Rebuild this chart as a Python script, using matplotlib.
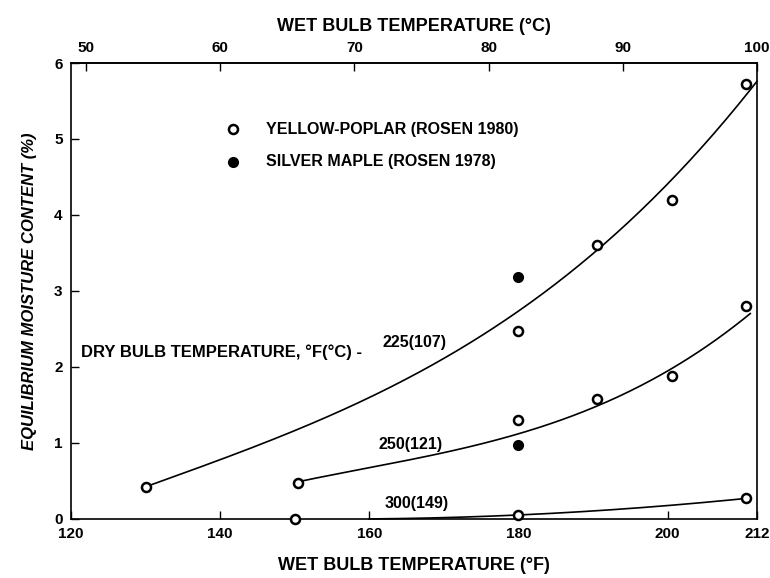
import numpy as np
import matplotlib.pyplot as plt

# wet bulb temperature (F) and equilibrium moisture content (%) for yellow-poplar
wb_225 = [130.0, 180.0, 190.5, 200.6, 210.5]
emc_225 = [0.42, 2.48, 3.60, 4.20, 5.72]
wb_250 = [150.4, 180.0, 190.5, 200.6, 210.5]
emc_250 = [0.47, 1.30, 1.58, 1.88, 2.80]
wb_300 = [150.0, 180.0, 210.5]
emc_300 = [0.00, 0.05, 0.27]

# silver maple points
wb_maple = [180.0, 180.0]
emc_maple = [3.18, 0.97]

# points along the hand-fitted curves
fit_x_225 = [130.3, 140.0, 150.7, 160.0, 180.3, 185.6, 190.5, 200.9, 212.0]
fit_y_225 = [0.42, 0.80, 1.21, 1.57, 2.75, 3.12, 3.56, 4.51, 5.75]
fit_x_250 = [150.4, 165.0, 180.0, 185.6, 200.9, 211.1]
fit_y_250 = [0.50, 0.73, 1.17, 1.30, 1.96, 2.72]
fit_x_300 = [160.0, 170.0, 180.0, 195.0, 210.5]
fit_y_300 = [0.00, 0.02, 0.05, 0.14, 0.27]

curve_labels = ['225(107)', '250(121)', '300(149)']
label_x = [166.1, 165.6, 166.3]
label_y = [2.32, 0.98, 0.21]

x_ticks = [120, 140, 160, 180, 200, 212]
c_ticks = [50, 60, 70, 80, 90, 100]
y_ticks = [0, 1, 2, 3, 4, 5, 6]

plt.rcParams['font.family'] = ['Liberation Sans', 'DejaVu Sans']
plt.rcParams['font.weight'] = 'bold'


def f_to_c(f):
    return (np.asarray(f) - 32) * 5 / 9


def c_to_f(c):
    return np.asarray(c) * 9 / 5 + 32


def smooth_curve(xs, ys, deg=3):
    coef = np.polyfit(xs, ys, deg)
    xf = np.linspace(xs[0], xs[-1], 200)
    return xf, np.clip(np.polyval(coef, xf), 0, None)


fig = plt.figure(figsize=(7.7, 5.78), dpi=100)
ax = fig.add_axes([0.0922, 0.1021, 0.8909, 0.7889])

for fx, fy in [(fit_x_225, fit_y_225), (fit_x_250, fit_y_250), (fit_x_300, fit_y_300)]:
    xf, yf = smooth_curve(fx, fy)
    ax.plot(xf, yf, color='black', lw=1.2, clip_on=False, zorder=2)

for wb, emc in [(wb_225, emc_225), (wb_250, emc_250), (wb_300, emc_300)]:
    ax.plot(wb, emc, 'o', ms=6.5, mfc='white', mec='black', mew=1.8,
            clip_on=False, zorder=3)

ax.plot(wb_maple, emc_maple, 'o', ms=7, color='black', clip_on=False, zorder=3)

for lx, ly, lab in zip(label_x, label_y, curve_labels):
    ax.text(lx, ly, lab, ha='center', va='center', fontsize=11.5, fontweight='bold')

ax.text(121.3, 2.2, 'DRY BULB TEMPERATURE, \u00b0F(\u00b0C) -', ha='left', va='center',
        fontsize=12, fontweight='bold')

# legend drawn as plain markers and text
ax.plot([141.7], [5.13], 'o', ms=6.5, mfc='white', mec='black', mew=1.8)
ax.plot([141.7], [4.70], 'o', ms=7, color='black')
ax.text(146.1, 5.13, 'YELLOW-POPLAR (ROSEN 1980)', ha='left', va='center',
        fontsize=11.5, fontweight='bold')
ax.text(146.1, 4.70, 'SILVER MAPLE (ROSEN 1978)', ha='left', va='center',
        fontsize=11.5, fontweight='bold')

ax.set_xlim(120, 212)
ax.set_ylim(0, 6)
ax.set_xticks(x_ticks)
ax.set_yticks(y_ticks)
ax.tick_params(direction='in', length=5.5, width=1, labelsize=11, pad=6)
for lab in ax.get_xticklabels() + ax.get_yticklabels():
    lab.set_fontweight('bold')

top = ax.secondary_xaxis('top', functions=(f_to_c, c_to_f))
top.set_xticks(c_ticks)
top.tick_params(direction='in', length=5.5, width=1, labelsize=11, pad=6)
for lab in top.get_xticklabels():
    lab.set_fontweight('bold')

for sp in ax.spines.values():
    sp.set_linewidth(1.2)
top.spines['top'].set_linewidth(1.2)

ax.set_xlabel('WET BULB TEMPERATURE (\u00b0F)', fontsize=13, fontweight='bold', labelpad=11)
top.set_xlabel('WET BULB TEMPERATURE (\u00b0C)', fontsize=13, fontweight='bold', labelpad=7)
ax.set_ylabel('EQUILIBRIUM MOISTURE CONTENT (%)', fontsize=12, fontweight='bold',
              style='italic', labelpad=12)

fig.savefig('out.png', dpi=100)
